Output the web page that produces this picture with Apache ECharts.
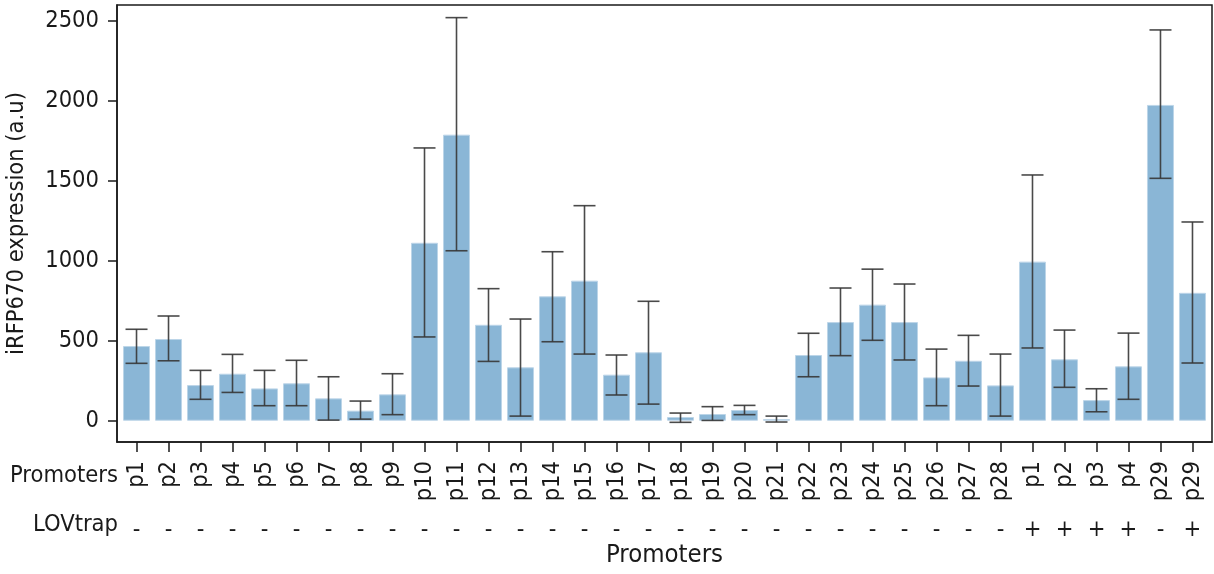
<!DOCTYPE html>
<html>
<head>
<meta charset="utf-8">
<script src="https://cdn.jsdelivr.net/npm/echarts@6/dist/echarts.min.js"></script>
<style>
  html, body { margin: 0; padding: 0; background: #fff; }
  #chart { width: 1214px; height: 574px; }
</style>
</head>
<body>
<div id="chart"></div>
<script>
// Promoter constructs, in plotting order
const categories = ['p1','p2','p3','p4','p5','p6','p7','p8','p9','p10','p11','p12','p13','p14',
  'p15','p16','p17','p18','p19','p20','p21','p22','p23','p24','p25','p26','p27','p28',
  'p1','p2','p3','p4','p29','p29'];
// LOVtrap co-expression marker for each construct
const lovtrap = ['-','-','-','-','-','-','-','-','-','-','-','-','-','-',
  '-','-','-','-','-','-','-','-','-','-','-','-','-','-',
  '+','+','+','+','-','+'];
// Mean iRFP670 expression (a.u)
const means = [467, 511, 223, 294, 202, 234, 140, 63, 165, 1113, 1789, 600, 334, 778,
  876, 288, 428, 23, 42, 67, 10, 411, 617, 726, 617, 271, 375, 221,
  995, 384, 129, 340, 1975, 800];
// Error bar lower / upper ends
const errLow = [359, 375, 134, 177, 94, 94, 4, 10, 38, 524, 1063, 371, 29, 494,
  417, 161, 104, -10, 2, 38, -8, 275, 407, 503, 380, 94, 217, 29,
  455, 209, 56, 134, 1516, 361];
const errHigh = [572, 655, 315, 415, 315, 378, 275, 123, 294, 1706, 2521, 826, 636, 1057,
  1345, 411, 747, 48, 88, 96, 29, 547, 830, 948, 855, 448, 534, 417,
  1537, 567, 200, 548, 2444, 1243];
const yTicks = [0, 500, 1000, 1500, 2000, 2500];

const idx = categories.map((_, i) => i);
const font = '"DejaVu Sans Condensed", "Liberation Sans", sans-serif';
const fs = 23.5;
const ink = '#1a1a1a';

const chart = echarts.init(document.getElementById('chart'), null, { renderer: 'canvas' });

chart.setOption({
  animation: false,
  backgroundColor: '#ffffff',
  textStyle: { fontFamily: font },
  grid: {
    left: 117, right: 2, top: 5, bottom: 132,
    outerBoundsMode: 'none',
    containLabel: false,
    show: true, borderColor: ink, borderWidth: 1.5, backgroundColor: 'transparent'
  },
  xAxis: [
    {
      type: 'value',
      min: -0.61, max: 33.61,
      name: 'Promoters',
      nameLocation: 'middle',
      nameGap: 100,
      nameTextStyle: { fontFamily: font, fontSize: 25.5, color: ink },
      axisLine: { show: true, onZero: false, lineStyle: { color: ink, width: 1.5 } },
      axisTick: { show: true, length: 10, customValues: idx, lineStyle: { color: ink, width: 1.5 } },
      splitLine: { show: false },
      axisLabel: {
        customValues: idx,
        rotate: 90,
        margin: 19,
        fontFamily: font, fontSize: fs, color: ink,
        formatter: v => categories[Math.round(v)]
      }
    },
    {
      type: 'value',
      position: 'bottom',
      offset: 76,
      min: -0.61, max: 33.61,
      axisLine: { show: false },
      axisTick: { show: false },
      splitLine: { show: false },
      axisLabel: {
        customValues: idx,
        margin: 0,
        fontFamily: font, fontSize: fs, color: ink,
        formatter: v => lovtrap[Math.round(v)]
      }
    }
  ],
  yAxis: {
    type: 'value',
    min: -133, max: 2600,
    name: 'iRFP670 expression (a.u)',
    nameLocation: 'middle',
    nameGap: 88,
    nameTextStyle: { fontFamily: font, fontSize: fs, color: ink },
    axisLine: { show: true, onZero: false, lineStyle: { color: ink, width: 1.5 } },
    axisTick: { show: true, length: 9, customValues: yTicks, lineStyle: { color: ink, width: 1.5 } },
    splitLine: { show: false },
    axisLabel: {
      customValues: yTicks,
      margin: 18,
      fontFamily: font, fontSize: fs, color: ink,
      formatter: v => String(v)
    }
  },
  graphic: [
    { type: 'text', right: 1214 - 118, top: 464,
      style: { text: 'Promoters', fontFamily: font, fontSize: fs, fill: ink } },
    { type: 'text', right: 1214 - 118, top: 513,
      style: { text: 'LOVtrap', fontFamily: font, fontSize: fs, fill: ink } }
  ],
  series: [
    {
      type: 'bar',
      xAxisIndex: 0,
      barWidth: 27,
      data: means.map((v, i) => [i, v]),
      itemStyle: { color: '#8ab6d6', borderColor: '#bcd5e8', borderWidth: 1 }
    },
    {
      type: 'custom',
      xAxisIndex: 0,
      data: idx.map(i => [i, errLow[i], errHigh[i]]),
      encode: { x: 0, y: [1, 2] },
      z: 5,
      renderItem: (params, api) => {
        const i = api.value(0);
        const lo = api.coord([i, api.value(1)]);
        const hi = api.coord([i, api.value(2)]);
        const half = 11;
        const style = { stroke: '#363636', lineWidth: 1.6, opacity: 0.9 };
        return {
          type: 'group',
          children: [
            { type: 'line', shape: { x1: lo[0], y1: lo[1], x2: hi[0], y2: hi[1] }, style },
            { type: 'line', shape: { x1: lo[0] - half, y1: lo[1], x2: lo[0] + half, y2: lo[1] }, style },
            { type: 'line', shape: { x1: hi[0] - half, y1: hi[1], x2: hi[0] + half, y2: hi[1] }, style }
          ]
        };
      }
    }
  ]
});
</script>
</body>
</html>
